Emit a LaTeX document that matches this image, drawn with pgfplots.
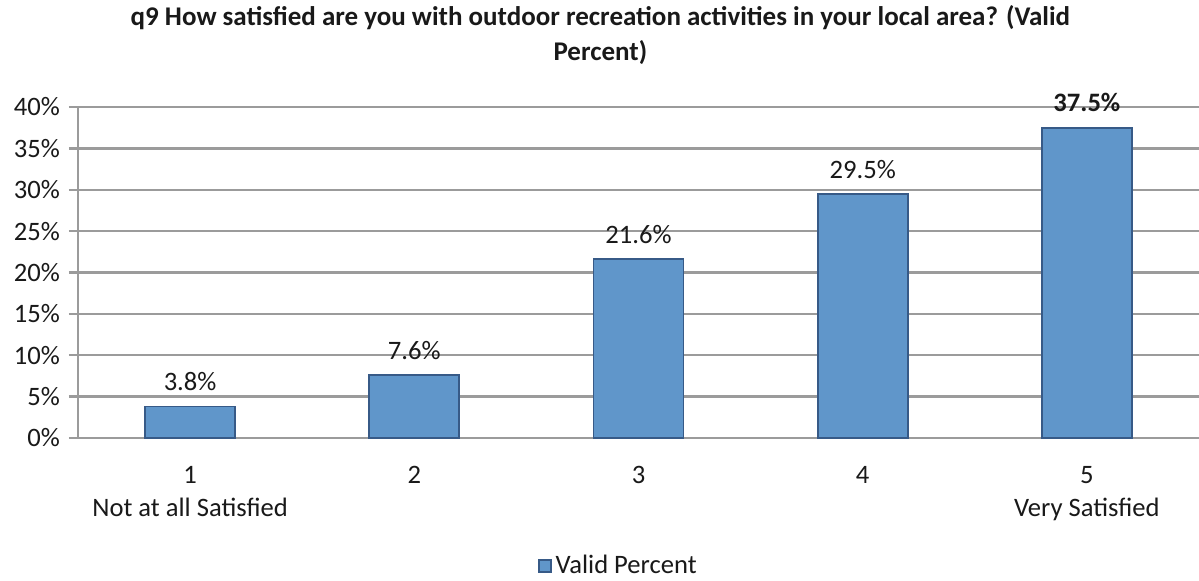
\documentclass[border=0pt]{standalone}
\usepackage{pgfplots}
\pgfplotsset{compat=1.18}
\usepackage{fontspec}
\setmainfont{Carlito}
\definecolor{barfill}{RGB}{96,150,202}
\definecolor{barline}{RGB}{55,90,135}
\definecolor{gridc}{RGB}{155,155,155}
\definecolor{txt}{RGB}{25,25,25}
\begin{document}
\begin{tikzpicture}
\useasboundingbox (-39pt,-71pt) rectangle (560.5pt,219pt);
\begin{axis}[
  at={(0,0)}, anchor=south west,
  scale only axis, width=560.5pt, height=165.5pt,
  xmin=0.5, xmax=5.5, ymin=0, ymax=40,
  axis x line=bottom, axis y line=left,
  axis line style={gridc, line width=1.2pt, -},
  xtick={1,2,3,4,5},
  xticklabels={{1\\Not at all Satisfied},{2},{3},{4},{5\\Very Satisfied}},
  x tick label style={align=center, font=\fontsize{13.3}{16.5}\selectfont, text=txt, yshift=-6pt},
  minor xtick={0.5,1.5,2.5,3.5,4.5,5.5},
  xtick style={draw=none},
  minor x tick style={gridc, line width=1.2pt},
  ytick={0,5,...,40},
  yticklabel={\pgfmathprintnumber{\tick}\%},
  y tick label style={font=\fontsize{13.3}{16}\selectfont, text=txt, xshift=-1pt},
  ytick style={gridc, line width=1.2pt},
  tick align=outside,
  major tick length=4.5pt, minor tick length=4.5pt,
  ymajorgrids, grid style={gridc, line width=1.2pt},
  /pgf/number format/assume math mode=true,
  clip=false,
  ybar, bar width=45pt,
  point meta=explicit symbolic,
  nodes near coords,
  nodes near coords style={font=\fontsize{13.3}{16}\selectfont, text=txt, yshift=4pt},
  title={q9 How satisfied are you with outdoor recreation activities in your local area? (Valid\\Percent)},
  title style={at={(0.466,1.272)}, anchor=north, align=center, inner sep=0pt,
    font=\bfseries\fontsize{13.5}{17.5}\selectfont, text=txt},
  legend style={at={(0.483,-0.387)}, anchor=center, draw=none,
    font=\fontsize{13.3}{16}\selectfont, text=txt, inner sep=0pt},
  legend image code/.code={\draw[fill=barfill, draw=barline, line width=0.8pt] (0pt,-3pt) rectangle (6pt,3pt);},
]
\addplot[fill=barfill, draw=barline, line width=0.9pt] coordinates {
  (1,3.8) [3.8\%]
  (2,7.6) [7.6\%]
  (3,21.6) [21.6\%]
  (4,29.5) [29.5\%]
  (5,37.5) [\textbf{37.5\%}]
};
\addlegendentry{Valid Percent}
\end{axis}
\end{tikzpicture}
\end{document}
